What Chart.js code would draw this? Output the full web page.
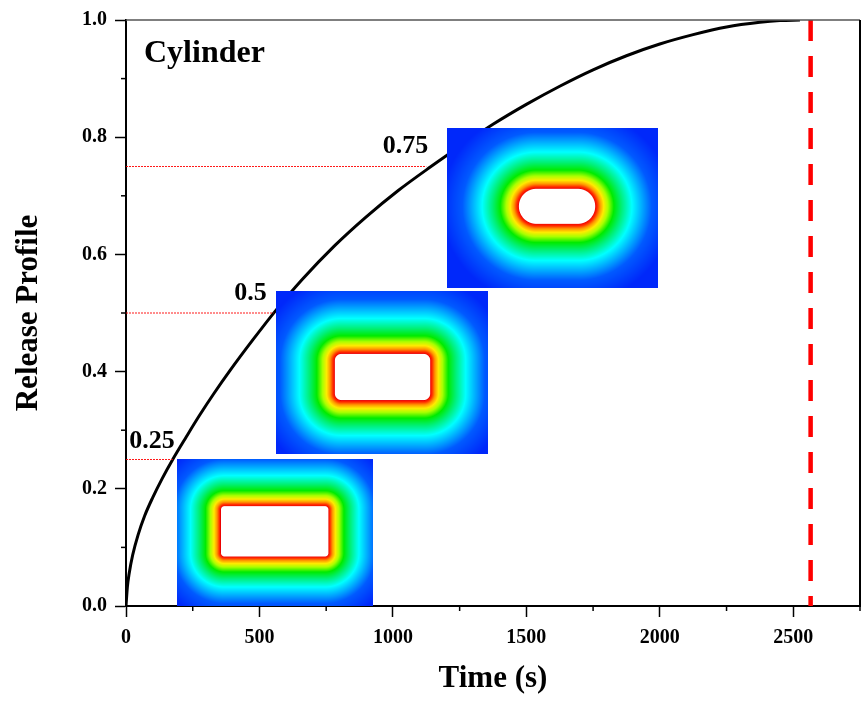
<!DOCTYPE html>
<html>
<head>
<meta charset="utf-8">
<script src="https://cdn.jsdelivr.net/npm/chart.js@4.4.1/dist/chart.umd.min.js"></script>
<style>
html,body{margin:0;padding:0;background:#fff;}
#wrap{width:862px;height:702px;}
</style>
</head>
<body>
<div id="wrap"><canvas id="c" width="862" height="702"></canvas></div>
<script>
// ---- data ----
const timeSeconds = [0, 5, 12, 25, 45, 70, 100, 135, 175, 225, 275, 330, 390, 475, 557, 660, 780, 900, 1020, 1140, 1260, 1375, 1500, 1625, 1750, 1875, 2000, 2125, 2250, 2375, 2450, 2525];
const releaseProfile = [0, 0.032, 0.056, 0.087, 0.121, 0.154, 0.185, 0.217, 0.25, 0.288, 0.325, 0.363, 0.402, 0.454, 0.502, 0.557, 0.614, 0.664, 0.709, 0.749, 0.787, 0.822, 0.856, 0.887, 0.915, 0.939, 0.959, 0.975, 0.988, 0.996, 0.999, 1.0];
const refLevels = [0.25, 0.5, 0.75];
const refLevelTimes = [175, 553, 1125];
const fullReleaseTime = 2565;
const xTickValues = [0, 500, 1000, 1500, 2000, 2500];
const yTickValues = [0.0, 0.2, 0.4, 0.6, 0.8, 1.0];
const panelLabel = 'Cylinder';

// ---- annotation placement (data coordinates) ----
const refLabelAnchor = { t: [12, 406, 962], v: [0.27, 0.522, 0.773] };
const insets = [
  { t0: 190, t1: 925, v0: 0, v1: 0.251, fx: [0.227, 0.770], fy: [0.324, 0.660], rc: 3, D: 50 },
  { t0: 562, t1: 1356, v0: 0.259, v1: 0.537, fx: [0.280, 0.725], fy: [0.389, 0.666], rc: 6, D: 58 },
  { t0: 1204, t1: 1993, v0: 0.543, v1: 0.815, fx: [0.343, 0.700], fy: [0.383, 0.596], rc: 17, D: 60 }
];

const SERIF = '"Liberation Serif", "Times New Roman", serif';

const stops = [
  [0.00, [235, 0, 0]],
  [0.04, [255, 40, 0]],
  [0.09, [255, 150, 0]],
  [0.15, [255, 235, 0]],
  [0.22, [170, 255, 0]],
  [0.32, [0, 235, 0]],
  [0.45, [0, 240, 120]],
  [0.62, [0, 255, 255]],
  [0.78, [0, 175, 255]],
  [0.95, [0, 90, 255]],
  [1.30, [0, 40, 250]]
];
function cmap(r) {
  if (r <= stops[0][0]) return stops[0][1];
  for (let i = 1; i < stops.length; i++) {
    if (r <= stops[i][0]) {
      const a = stops[i - 1], b = stops[i];
      const f = (r - a[0]) / (b[0] - a[0]);
      return [0, 1, 2].map(k => a[1][k] + (b[1][k] - a[1][k]) * f);
    }
  }
  return stops[stops.length - 1][1];
}
function renderInset(w, h, s) {
  const cv = document.createElement('canvas');
  cv.width = w; cv.height = h;
  const cx = cv.getContext('2d');
  const img = cx.createImageData(w, h);
  const x0 = s.fx[0] * w, x1 = s.fx[1] * w, y0 = s.fy[0] * h, y1 = s.fy[1] * h;
  const mx = (x0 + x1) / 2, my = (y0 + y1) / 2, hx = (x1 - x0) / 2, hy = (y1 - y0) / 2;
  const rc = Math.min(s.rc, hx, hy);
  for (let y = 0; y < h; y++) {
    for (let x = 0; x < w; x++) {
      const px = x + 0.5 - mx, py = y + 0.5 - my;
      const qx = Math.abs(px) - (hx - rc), qy = Math.abs(py) - (hy - rc);
      const d = Math.hypot(Math.max(qx, 0), Math.max(qy, 0)) + Math.min(Math.max(qx, qy), 0) - rc;
      let c;
      if (d <= 0) c = [255, 255, 255];
      else if (d < 1) { const red = cmap(0); c = [255 + (red[0] - 255) * d, 255 + (red[1] - 255) * d, 255 + (red[2] - 255) * d]; }
      else c = cmap(d / s.D);
      const i = (y * w + x) * 4;
      img.data[i] = c[0]; img.data[i + 1] = c[1]; img.data[i + 2] = c[2]; img.data[i + 3] = 255;
    }
  }
  cx.putImageData(img, 0, 0);
  return cv;
}

const insetPlugin = {
  id: 'insets',
  afterDatasetsDraw(chart) {
    const { ctx, scales: { x, y } } = chart;
    insets.forEach(s => {
      const L = Math.round(x.getPixelForValue(s.t0)), R = Math.round(x.getPixelForValue(s.t1));
      const T = Math.round(y.getPixelForValue(s.v1)), B = Math.round(y.getPixelForValue(s.v0));
      const cv = renderInset(R - L, B - T, s);
      ctx.drawImage(cv, L, T);
    });
  }
};

const decoPlugin = {
  id: 'deco',
  afterDraw(chart) {
    const { ctx, chartArea: a, scales: { x, y } } = chart;
    ctx.save();
    // frame top/right
    ctx.strokeStyle = '#555'; ctx.lineWidth = 1.5;
    ctx.beginPath(); ctx.moveTo(a.left, a.top); ctx.lineTo(a.right, a.top); ctx.stroke();
    ctx.strokeStyle = '#000'; ctx.lineWidth = 2;
    ctx.beginPath(); ctx.moveTo(a.right, a.top); ctx.lineTo(a.right, a.bottom); ctx.stroke();
    // minor ticks
    ctx.lineWidth = 1.5; ctx.strokeStyle = '#000';
    x.ticks.forEach(t => {
      if (!xTickValues.includes(t.value)) {
        const p = x.getPixelForValue(t.value);
        ctx.beginPath(); ctx.moveTo(p, a.bottom); ctx.lineTo(p, a.bottom + 5); ctx.stroke();
      }
    });
    y.ticks.forEach(t => {
      if (!yTickValues.some(v => Math.abs(v - t.value) < 1e-6)) {
        const p = y.getPixelForValue(t.value);
        ctx.beginPath(); ctx.moveTo(a.left, p); ctx.lineTo(a.left - 5, p); ctx.stroke();
      }
    });
    // labels
    ctx.fillStyle = '#000';
    ctx.textAlign = 'left'; ctx.textBaseline = 'alphabetic';
    ctx.font = 'bold 26px ' + SERIF;
    refLevels.forEach((lv, i) => {
      ctx.fillText(String(lv), x.getPixelForValue(refLabelAnchor.t[i]), y.getPixelForValue(refLabelAnchor.v[i]));
    });
    ctx.font = 'bold 32px ' + SERIF;
    ctx.fillText(panelLabel, a.left + 18, a.top + 42);
    ctx.restore();
  }
};

const curveData = timeSeconds.map((t, i) => ({ x: t, y: releaseProfile[i] }));
const refDatasets = refLevels.map((lv, i) => ({
  data: [{ x: 0, y: lv }, { x: refLevelTimes[i], y: lv }],
  borderColor: 'rgba(255,0,0,0.9)', borderWidth: 1.2, borderDash: [2, 1], pointRadius: 0, fill: false
}));

new Chart(document.getElementById('c'), {
  type: 'line',
  data: {
    datasets: [
      ...refDatasets,
      { data: curveData, borderColor: '#000', borderWidth: 3, pointRadius: 0, fill: false, cubicInterpolationMode: 'monotone' },
      { data: [{ x: fullReleaseTime, y: 1 }, { x: fullReleaseTime, y: 0 }], borderColor: '#ff0000', borderWidth: 4.5, borderDash: [21, 15], pointRadius: 0, fill: false }
    ]
  },
  options: {
    responsive: false,
    animation: false,
    devicePixelRatio: 1,
    layout: { padding: { top: 20, right: 2, left: 0, bottom: 0 } },
    plugins: { legend: { display: false }, tooltip: { enabled: false } },
    scales: {
      x: {
        type: 'linear', min: 0, max: 2750,
        afterFit: s => { s.height = 96; s.paddingLeft = 0; s.paddingRight = 0; },
        ticks: {
          stepSize: 250, autoSkip: false, maxRotation: 0, color: '#000', padding: 9,
          font: { family: SERIF, weight: 'bold', size: 20 },
          callback: v => (xTickValues.includes(v) ? String(v) : '')
        },
        grid: {
          drawOnChartArea: false, drawTicks: true, tickLength: 11, tickWidth: 1.5,
          tickColor: c => (c.tick && xTickValues.includes(c.tick.value) ? '#000' : 'rgba(0,0,0,0)')
        },
        border: { color: '#000', width: 2 },
        title: { display: true, text: 'Time (s)', color: '#000', font: { family: SERIF, weight: 'bold', size: 31 }, padding: { top: 0, bottom: 4 } }
      },
      y: {
        type: 'linear', min: 0, max: 1,
        afterFit: s => { s.width = 126; },
        ticks: {
          stepSize: 0.1, autoSkip: false, color: '#000', padding: 8,
          font: { family: SERIF, weight: 'bold', size: 20 },
          callback: v => (yTickValues.some(t => Math.abs(t - v) < 1e-6) ? v.toFixed(1) : '')
        },
        grid: {
          drawOnChartArea: false, drawTicks: true, tickLength: 11, tickWidth: 1.5,
          tickColor: c => (c.tick && yTickValues.some(t => Math.abs(t - c.tick.value) < 1e-6) ? '#000' : 'rgba(0,0,0,0)')
        },
        border: { color: '#000', width: 2 },
        title: { display: true, text: 'Release Profile', color: '#000', font: { family: SERIF, weight: 'bold', size: 31 }, padding: { top: 10, bottom: 0 } }
      }
    }
  },
  plugins: [insetPlugin, decoPlugin]
});
</script>
</body>
</html>
